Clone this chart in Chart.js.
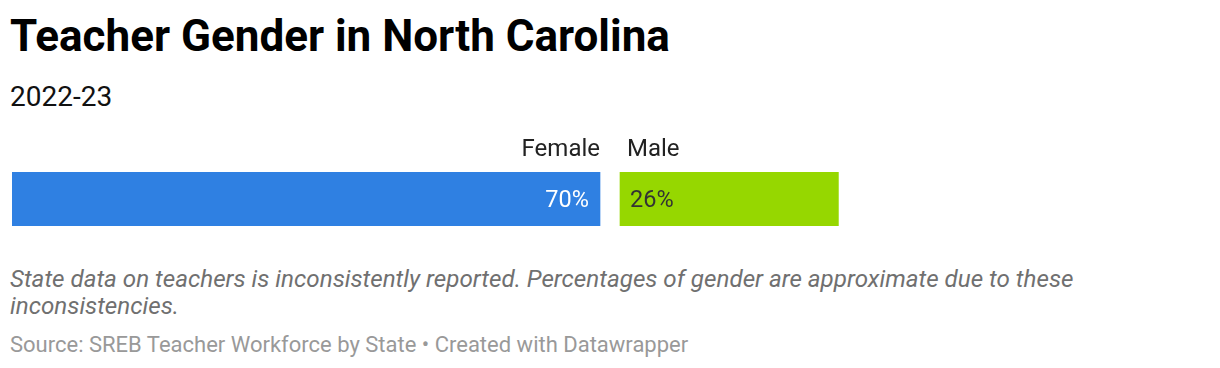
<!DOCTYPE html>
<html><head><meta charset="utf-8">
<script src="https://cdn.jsdelivr.net/npm/chart.js@4"></script>
<style>
html,body{margin:0;padding:0;background:#fff;width:1220px;height:368px;overflow:hidden;font-family:Roboto,"Noto Sans",sans-serif;}
#title{position:absolute;left:10px;top:10px;font-size:44px;font-weight:700;color:#000;white-space:nowrap;line-height:52px;}
#sub{position:absolute;left:10px;top:80px;font-size:28px;color:#111;white-space:nowrap;line-height:34px;}
#notes{position:absolute;left:10px;top:266px;font-size:24.2px;font-style:italic;color:#707070;line-height:27px;width:1190px;}
#source{position:absolute;left:10px;top:331px;font-size:22px;color:#999;white-space:nowrap;line-height:28px;}
#wrap{position:absolute;left:0;top:125px;width:1220px;height:110px;}
</style></head>
<body>
<div id="title">Teacher Gender in North Carolina</div>
<div id="sub">2022-23</div>
<div id="wrap"><canvas id="c" width="1220" height="110"></canvas></div>
<div id="notes">State data on teachers is inconsistently reported. Percentages of gender are approximate due to these inconsistencies.</div>
<div id="source">Source: SREB Teacher Workforce by State • Created with Datawrapper</div>
<script>
const categories = ['North Carolina'];
const seriesNames = ['Female', 'Male'];
const female = [70];
const male = [26];
const valueLabels = ['70%', '26%'];

const GAP = 20 / 8.4;       // visual gap between segments, in axis units
const AXIS_MAX = 1196 / 8.4;

const labelPlugin = {
  id: 'labels',
  afterDatasetsDraw(chart) {
    const ctx = chart.ctx;
    ctx.save();
    ctx.textBaseline = 'middle';
    chart.data.datasets.forEach((ds, i) => {
      const el = chart.getDatasetMeta(i).data[0];
      const left = Math.min(el.x, el.base), right = Math.max(el.x, el.base);
      const top = el.y - el.height / 2;
      ctx.font = '24px Roboto';
      ctx.fillStyle = '#222';
      if (i === 0) {
        ctx.textAlign = 'right';
        ctx.fillText(seriesNames[i], right, top - 22);
        ctx.font = '23.5px Roboto';
        ctx.fillStyle = '#fff';
        ctx.fillText(valueLabels[i], right - 11, el.y + 2);
      } else {
        ctx.textAlign = 'left';
        ctx.fillText(seriesNames[i], left + 7, top - 22);
        ctx.font = '23.5px Roboto';
        ctx.fillStyle = '#333';
        ctx.fillText(valueLabels[i], left + 10, el.y + 2);
      }
    });
    ctx.restore();
  }
};

new Chart(document.getElementById('c'), {
  type: 'bar',
  data: {
    labels: categories,
    datasets: [
      { label: seriesNames[0], data: female.map(v => [0, v]), backgroundColor: '#2f80e2' },
      { label: seriesNames[1], data: male.map((v, k) => [female[k] + GAP, female[k] + GAP + v]), backgroundColor: '#96d700' }
    ]
  },
  options: {
    indexAxis: 'y',
    responsive: false,
    animation: false,
    events: [],
    grouped: false,
    barPercentage: 1,
    categoryPercentage: 1,
    borderSkipped: false,
    layout: { padding: { left: 12, right: 12, top: 47, bottom: 9 } },
    scales: {
      x: { display: false, min: 0, max: AXIS_MAX },
      y: { display: false }
    },
    plugins: { legend: { display: false }, tooltip: { enabled: false } }
  },
  plugins: [labelPlugin]
});
</script>
</body></html>
